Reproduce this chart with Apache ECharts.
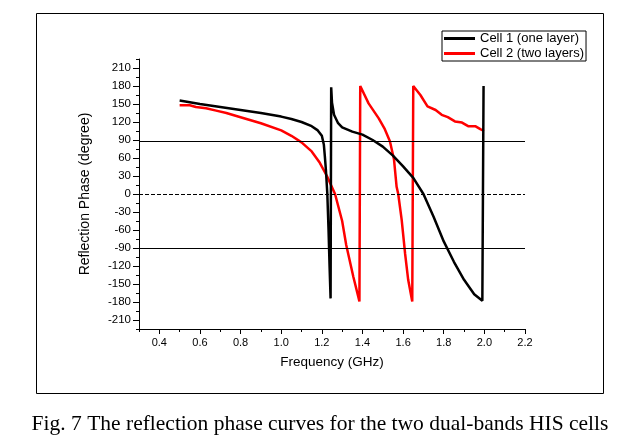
<!DOCTYPE html>
<html>
<head>
<meta charset="utf-8">
<script src="https://cdn.jsdelivr.net/npm/echarts@6/dist/echarts.min.js"></script>
<style>
html,body{margin:0;padding:0;background:#fff;}
#chart{width:634px;height:444px;}
</style>
</head>
<body>
<div id="chart"></div>
<script>
// ---- data ----
const seriesNames = ['Cell 1 (one layer)', 'Cell 2 (two layers)'];
const cell1Freq  = [0.5, 0.6, 0.7, 0.8, 0.9, 1.0, 1.05, 1.1, 1.15, 1.18, 1.2, 1.21, 1.215, 1.22, 1.227, 1.233, 1.238, 1.243, 1.246, 1.25, 1.26, 1.28, 1.3, 1.35, 1.4, 1.45, 1.5, 1.55, 1.6, 1.65, 1.7, 1.75, 1.8, 1.85, 1.9, 1.95, 1.99, 1.996];
const cell1Phase = [156, 150, 145, 140, 135, 129, 125, 120, 113, 106, 97, 82, 62, 40, 0, -60, -120, -174, 178, 152, 132, 118, 111, 104, 99, 90, 79, 64, 46, 27, 0, -38, -79, -113, -143, -167, -178, 180];
const cell2Freq  = [0.5, 0.55, 0.58, 0.63, 0.68, 0.73, 0.8, 0.9, 1.0, 1.05, 1.1, 1.15, 1.19, 1.225, 1.265, 1.3, 1.32, 1.355, 1.385, 1.389, 1.43, 1.48, 1.51, 1.535, 1.555, 1.568, 1.576, 1.593, 1.61, 1.625, 1.645, 1.65, 1.685, 1.72, 1.76, 1.79, 1.82, 1.855, 1.89, 1.92, 1.955, 1.98, 1.998];
const cell2Phase = [148, 148, 145, 143, 139, 135, 128, 118, 106, 97, 86, 71, 52, 30, 0, -45, -85, -138, -179, 180, 151, 126, 108, 88, 58, 12, 0, -43, -100, -143, -179, 180, 165, 146, 140, 132, 128, 121, 119, 113, 113, 108, 105];
const yMajorTicks = [-210, -180, -150, -120, -90, -60, -30, 0, 30, 60, 90, 120, 150, 180, 210];
const xMajorTicks = [0.4, 0.6, 0.8, 1.0, 1.2, 1.4, 1.6, 1.8, 2.0, 2.2];
const refLines = [88, -90];
const zeroLine = 0;
const xTitle = 'Frequency (GHz)';
const yTitle = 'Reflection Phase (degree)';
const caption = 'Fig. 7 The reflection phase curves for the two dual-bands HIS cells';

const FONT = '"Liberation Sans", Arial, sans-serif';
const chart = echarts.init(document.getElementById('chart'), null, {renderer: 'canvas'});

function pairs(xs, ys) { return xs.map((x, i) => [x, ys[i]]); }

const option = {
  animation: false,
  backgroundColor: '#fff',
  textStyle: {fontFamily: FONT},
  grid: {left: 139, right: 109, top: 59, bottom: 115},
  legend: {
    orient: 'vertical',
    left: 442, top: 31,
    padding: [1, 2, 1, 2],
    itemGap: 2,
    itemWidth: 31, itemHeight: 3,
    icon: 'rect',
    borderColor: '#000', borderWidth: 1,
    backgroundColor: '#fff',
    textStyle: {fontFamily: FONT, fontSize: 13, color: '#000'},
    data: seriesNames
  },
  xAxis: [{
    type: 'value', min: 0.3, max: 2.2, interval: 0.1, position: 'bottom',
    name: xTitle, nameLocation: 'middle', nameGap: 26,
    nameTextStyle: {fontFamily: FONT, fontSize: 13.5, color: '#000'},
    axisLine: {onZero: false, lineStyle: {color: '#000', width: 1}},
    axisTick: {show: true, length: 3, lineStyle: {color: '#000'}},
    axisLabel: {customValues: xMajorTicks, formatter: v => v.toFixed(1), fontFamily: FONT, fontSize: 11, color: '#000', margin: 8},
    splitLine: {show: false}
  }, {
    type: 'value', min: 0.3, max: 2.2, position: 'bottom',
    axisLine: {show: false, onZero: false},
    axisTick: {show: true, length: 5, customValues: xMajorTicks, lineStyle: {color: '#000'}},
    axisLabel: {show: false},
    splitLine: {show: false}
  }],
  yAxis: [{
    type: 'value', min: -225, max: 225, interval: 15, position: 'left',
    name: yTitle, nameLocation: 'middle', nameGap: 47, nameRotate: 90,
    nameTextStyle: {fontFamily: FONT, fontSize: 14, color: '#000'},
    axisLine: {show: true, onZero: false, lineStyle: {color: '#000', width: 1}},
    axisTick: {show: true, length: 3, lineStyle: {color: '#000'}},
    axisLabel: {customValues: yMajorTicks, fontFamily: FONT, fontSize: 11.5, color: '#000', margin: 8},
    splitLine: {show: false}
  }, {
    type: 'value', min: -225, max: 225, position: 'left',
    axisLine: {show: false, onZero: false},
    axisTick: {show: true, length: 6, customValues: yMajorTicks, lineStyle: {color: '#000'}},
    axisLabel: {show: false},
    splitLine: {show: false}
  }],
  series: [{
    name: seriesNames[0], type: 'line', xAxisIndex: 0, yAxisIndex: 0,
    data: pairs(cell1Freq, cell1Phase),
    showSymbol: false, symbol: 'none',
    lineStyle: {color: '#000', width: 2.5},
    itemStyle: {color: '#000'},
    markLine: {
      silent: true, symbol: 'none', label: {show: false},
      data: [
        {yAxis: refLines[0], lineStyle: {color: '#000', width: 1, type: 'solid'}},
        {yAxis: refLines[1], lineStyle: {color: '#000', width: 1, type: 'solid'}},
        {yAxis: zeroLine, lineStyle: {color: '#000', width: 1, type: [4, 2]}}
      ]
    },
    z: 3
  }, {
    name: seriesNames[1], type: 'line', xAxisIndex: 0, yAxisIndex: 0,
    data: pairs(cell2Freq, cell2Phase),
    showSymbol: false, symbol: 'none',
    lineStyle: {color: '#ff0000', width: 2.5},
    itemStyle: {color: '#ff0000'},
    z: 2
  }],
  graphic: [{
    type: 'rect', silent: true, z: -1,
    shape: {x: 36.5, y: 13.5, width: 567, height: 380},
    style: {fill: null, stroke: '#000', lineWidth: 1}
  }, {
    type: 'text', silent: true,
    x: 320, y: 424,
    style: {text: caption, font: '21.5px "Liberation Serif", "Times New Roman", serif', fill: '#000', align: 'center', verticalAlign: 'middle'}
  }]
};
chart.setOption(option);
</script>
</body>
</html>
